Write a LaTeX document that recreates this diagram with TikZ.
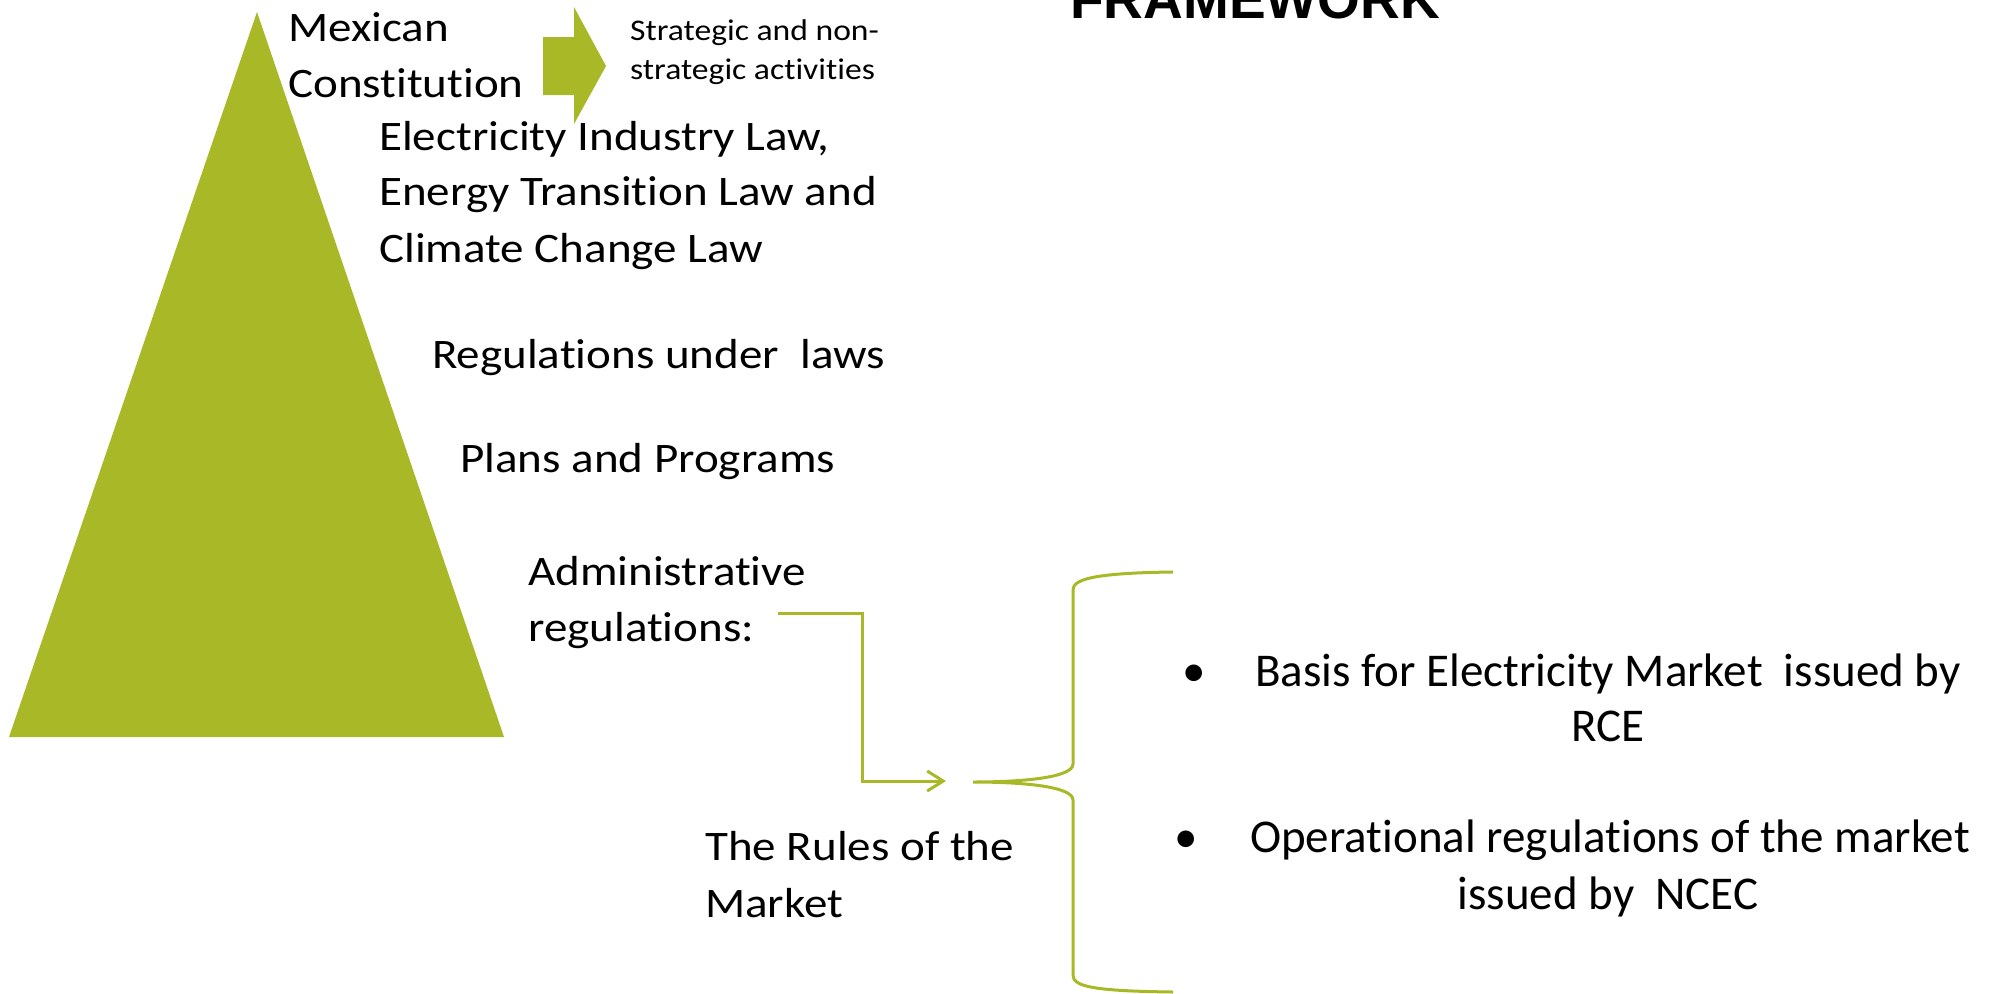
\documentclass[tikz,border=0pt]{standalone}
\usepackage{fontspec}
\setmainfont{Carlito}[Ligatures=CommonOff,FakeStretch=1.12]
\newfontfamily\itemfont{Carlito}[Ligatures=CommonOff]
\newfontfamily\headfont{Liberation Sans}
\usetikzlibrary{arrows.meta}
\definecolor{leaf}{HTML}{A8B827}
\begin{document}
\begin{tikzpicture}[x=1pt,y=-1pt,
  lbl/.style={anchor=base west,inner sep=0pt,font=\fontsize{42}{50}\selectfont},
  small/.style={anchor=base west,inner sep=0pt,font=\fontsize{30}{35}\selectfont},
  rhs/.style={anchor=base,inner sep=0pt,font=\itemfont\fontsize{47}{52}\selectfont},
  conn/.style={draw=leaf,line width=3pt},
  brace/.style={draw=leaf,line width=3pt}]
\useasboundingbox (0,0) rectangle (1991,993);

% pyramid
\fill[leaf] (257,12) -- (504,737) -- (9,737) -- cycle;

% block arrow
\fill[leaf] (543,37) -- (574,37) -- (574,7) -- (606,66) -- (574,124) -- (574,95) -- (543,95) -- cycle;

% heading (cut by the top edge)
\node[anchor=base west,inner sep=0pt,font=\headfont\bfseries\fontsize{55}{60}\selectfont] (head) at (1070,19) {FRAMEWORK};

% levels of the pyramid
\node[lbl] (mex1) at (288,41) {Mexican};
\node[lbl] (mex2) at (288,97) {Constitution};
\node[small] (str1) at (630,40) {Strategic and non-};
\node[small] (str2) at (630,79) {strategic activities};
\node[lbl] (law1) at (379,150) {Electricity Industry Law,};
\node[lbl] (law2) at (379,205) {Energy Transition Law and};
\node[lbl] (law3) at (379,262) {Climate Change Law};
\node[lbl] (reg) at (432,368) {Regulations under\ \ laws};
\node[lbl] (plan) at (460,472) {Plans and Programs};
\node[lbl] (adm1) at (528,585) {Administrative};
\node[lbl] (adm2) at (528,641) {regulations:};
\node[lbl] (rul1) at (705,860) {The Rules of the};
\node[lbl] (rul2) at (705,917) {Market};

% elbow connector
\coordinate (c1) at (778,613);
\coordinate (c2) at (946,781);
\draw[conn,-{Straight Barb[length=16pt,width=20pt]}] (c1) -| (862,781) -- (c2);

% curly brace
\coordinate (tip) at (973,782);
\draw[brace] (1173,572) .. controls (1090,573) and (1073,580) .. (1073,590)
  -- (1073,764) .. controls (1073,778) and (1020,782) .. (tip)
  .. controls (1020,782) and (1073,786) .. (1073,800)
  -- (1073,975) .. controls (1073,986) and (1090,991) .. (1173,992);

% items
\node[rhs] (b1) at (1194,686) {\textbullet};
\node[rhs] (it1a) at (1608,686) {Basis for Electricity Market\ \ issued by};
\node[rhs] (it1b) at (1608,741) {RCE};
\node[rhs] (b2) at (1186,852) {\textbullet};
\node[rhs] (it2a) at (1610,852) {Operational regulations of the market};
\node[rhs] (it2b) at (1608,909) {issued by\ \ NCEC};
\end{tikzpicture}
\end{document}
